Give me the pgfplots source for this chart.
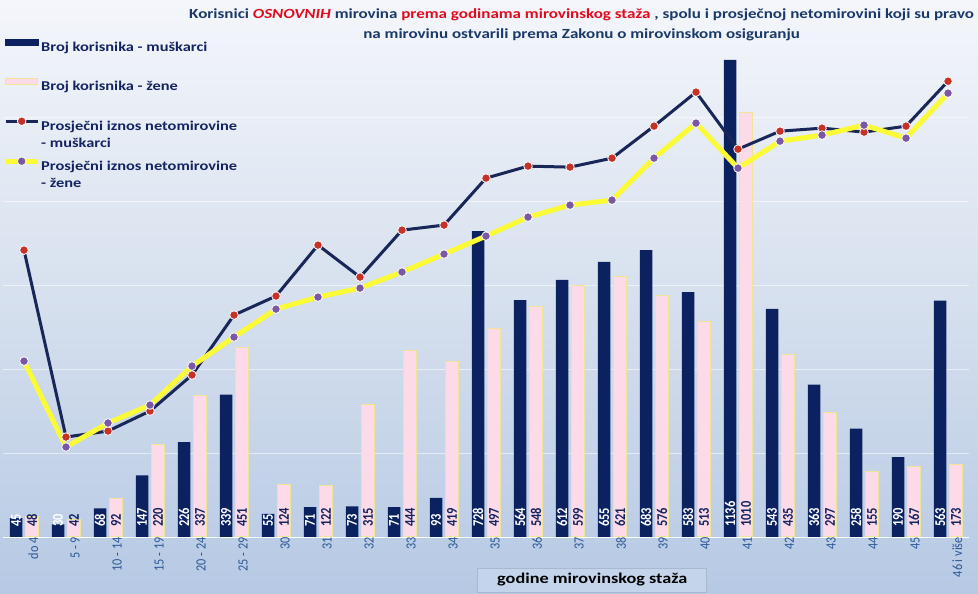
\documentclass[border=0pt]{standalone}
\usepackage{pgfplots}
\pgfplotsset{compat=1.18}
\usepackage{fontspec}
\setmainfont{Carlito}
\newfontfamily\wide{Carlito}[FakeStretch=1.22]
\definecolor{bgtop}{RGB}{244,246,251}
\definecolor{bgmid}{RGB}{214,224,238}
\definecolor{bgbot}{RGB}{182,201,228}
\definecolor{navybar}{RGB}{12,34,96}
\definecolor{pinkbar}{RGB}{252,218,232}
\definecolor{pinkedge}{RGB}{240,228,150}
\definecolor{mline}{RGB}{24,38,88}
\definecolor{mdot}{RGB}{196,50,40}
\definecolor{fline}{RGB}{250,250,55}
\definecolor{fdot}{RGB}{122,88,165}
\definecolor{ticklab}{RGB}{45,88,150}
\definecolor{legtext}{RGB}{20,36,96}
\definecolor{titblue}{RGB}{28,58,105}
\definecolor{titred}{RGB}{226,10,30}
\definecolor{boxfill}{RGB}{196,213,235}
\definecolor{boxedge}{RGB}{168,184,206}
\newcommand{\lt}[2]{\begin{tabular}[t]{@{}l@{}}#1\\#2\end{tabular}}
\pgfplotsset{
  linelegend/.style={legend image code/.code={\draw[mark repeat=2, mark phase=2, ##1] plot coordinates {(0bp,4bp) (16bp,4bp) (32bp,4bp)};}},
  malebarlegend/.style={legend image code/.code={\fill[navybar] (0bp,1bp) rectangle (32bp,7bp);}},
  femalebarlegend/.style={legend image code/.code={\filldraw[fill=pinkbar, draw=pinkedge, line width=1bp] (0bp,1bp) rectangle (32bp,7bp);}},
}
\begin{document}
\begin{tikzpicture}[x=1bp,y=1bp]
\shade[top color=bgtop, bottom color=bgbot, middle color=bgmid] (0,0) rectangle (978,594);
\begin{axis}[
  at={(3bp,57bp)}, anchor=south west, scale only axis,
  width=966bp, height=504bp,
  xmin=-0.5, xmax=22.5, ymin=0, ymax=1200,
  axis lines=left, axis line style={-},
  x axis line style={draw=white, line width=0.8bp},
  y axis line style={draw=none},
  ytick={200,400,600,800,1000}, yticklabels={},
  ymajorgrids, grid style={white, opacity=0.55, line width=0.7bp},
  major tick length=0pt,
  xtick={0,...,22},
  xticklabels={do 4,5 - 9,10 - 14,15 - 19,20 - 24,25 - 29,30,31,32,33,34,35,36,37,38,39,40,41,42,43,44,45,46 i više},
  xticklabel style={rotate=90, yscale=1.15, anchor=east, inner sep=0pt, yshift=-8bp, text=ticklab, font=\fontsize{12.3}{13}\selectfont},
  xlabel={godine mirovinskog staža},
  xlabel style={at={(axis description cs:0.610,-0.0853)}, anchor=center, fill=boxfill, draw=boxedge, line width=0.6bp, minimum width=229bp, minimum height=24bp, inner sep=0pt, text=black, font=\wide\fontsize{15}{18}\selectfont\bfseries},
  title={Korisnici \textcolor{titred}{\textit{OSNOVNIH}} mirovina \textcolor{titred}{prema godinama mirovinskog staža} , spolu i prosječnoj netomirovini koji su pravo\\na mirovinu ostvarili prema Zakonu o mirovinskom osiguranju},
  title style={at={(axis description cs:0.599,1.004)}, anchor=center, align=center, text=titblue, font=\wide\fontsize{14}{20}\selectfont\bfseries},
  clip=false,
]
\addplot[ybar, bar width=12.5bp, bar shift=-8bp, fill=navybar, draw=none] coordinates {
(0,45) (1,30) (2,68) (3,147) (4,226) (5,339) (6,55) (7,71) (8,73) (9,71) (10,93) (11,728)
(12,564) (13,612) (14,655) (15,683) (16,583) (17,1136) (18,543) (19,363) (20,258) (21,190) (22,563)};
\addplot[ybar, bar width=13bp, bar shift=8bp, fill=pinkbar, draw=pinkedge, line width=1bp] coordinates {
(0,48) (1,42) (2,92) (3,220) (4,337) (5,451) (6,124) (7,122) (8,315) (9,444) (10,419) (11,497)
(12,548) (13,599) (14,621) (15,576) (16,513) (17,1010) (18,435) (19,297) (20,155) (21,167) (22,173)};
\addplot[only marks, mark=none, forget plot, nodes near coords, point meta=explicit symbolic,
  nodes near coords style={xshift=-8bp, yshift=10bp, rotate=90, yscale=1.2, anchor=west, inner sep=0pt, text=white, font=\fontsize{12.5}{12}\selectfont\bfseries}] coordinates {
(0,0)[45] (1,0)[30] (2,0)[68] (3,0)[147] (4,0)[226] (5,0)[339] (6,0)[55] (7,0)[71] (8,0)[73] (9,0)[71] (10,0)[93] (11,0)[728]
(12,0)[564] (13,0)[612] (14,0)[655] (15,0)[683] (16,0)[583] (17,0)[1136] (18,0)[543] (19,0)[363] (20,0)[258] (21,0)[190] (22,0)[563]};
\addplot[only marks, mark=none, forget plot, nodes near coords, point meta=explicit symbolic,
  nodes near coords style={xshift=8bp, yshift=10bp, rotate=90, yscale=1.2, anchor=west, inner sep=0pt, text=legtext, font=\fontsize{12.5}{12}\selectfont\bfseries}] coordinates {
(0,0)[48] (1,0)[42] (2,0)[92] (3,0)[220] (4,0)[337] (5,0)[451] (6,0)[124] (7,0)[122] (8,0)[315] (9,0)[444] (10,0)[419] (11,0)[497]
(12,0)[548] (13,0)[599] (14,0)[621] (15,0)[576] (16,0)[513] (17,0)[1010] (18,0)[435] (19,0)[297] (20,0)[155] (21,0)[167] (22,0)[173]};
\end{axis}
\begin{axis}[
  at={(3bp,57bp)}, anchor=south west, scale only axis,
  width=966bp, height=504bp,
  xmin=-0.5, xmax=22.5, ymin=0, ymax=6000,
  hide axis, clip=false,
  legend style={at={(axis description cs:0.0,0.99)}, anchor=north west, draw=none, fill=none,
    inner sep=0pt, row sep=24bp, column sep=0bp,
    nodes={inner xsep=1bp, inner ysep=1bp, text=legtext, font=\wide\fontsize{13.5}{17}\selectfont\bfseries}},
  legend cell align=left,
]
\addlegendimage{malebarlegend}
\addlegendentry{\lt{Broj korisnika - muškarci}{\mbox{}}}
\addlegendimage{femalebarlegend}
\addlegendentry{\lt{Broj korisnika - žene}{\mbox{}}}
\addplot[mline, line width=3bp, mark=*, mark size=4.3bp, mark options={fill=mdot, draw=white, line width=0.8bp}, linelegend] coordinates {
(0,3415) (1,1190) (2,1261) (3,1499) (4,1928) (5,2642) (6,2868) (7,3475) (8,3094) (9,3653) (10,3713) (11,4272)
(12,4415) (13,4403) (14,4510) (15,4891) (16,5296) (17,4617) (18,4831) (19,4867) (20,4820) (21,4891) (22,5426)};
\addlegendentry{\lt{Prosječni iznos netomirovine}{- muškarci}}
\addplot[fline, line width=5bp, mark=*, mark size=4.3bp, mark options={fill=fdot, draw=white, line width=0.8bp}, linelegend] coordinates {
(0,2094) (1,1071) (2,1357) (3,1571) (4,2035) (5,2380) (6,2713) (7,2856) (8,2963) (9,3154) (10,3368) (11,3582)
(12,3808) (13,3951) (14,4010) (15,4510) (16,4927) (17,4391) (18,4712) (19,4784) (20,4903) (21,4748) (22,5284)};
\addlegendentry{\lt{Prosječni iznos netomirovine}{- žene}}
\end{axis}
\pgfresetboundingbox
\useasboundingbox (0,0) rectangle (978,594);
\end{tikzpicture}
\end{document}
